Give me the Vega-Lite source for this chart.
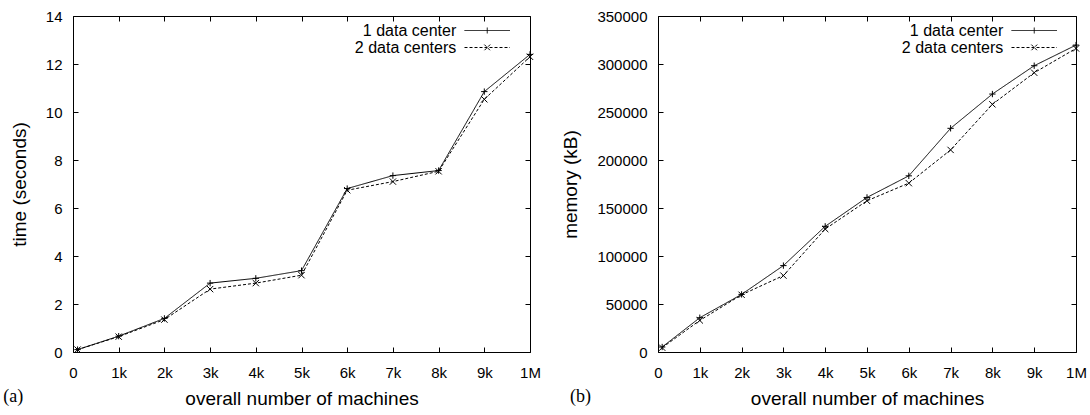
{
  "$schema": "https://vega.github.io/schema/vega-lite/v6.json",
  "background": "white",
  "padding": {"left": 2, "top": 8, "right": 5, "bottom": 2},
  "spacing": 20,
  "resolve": {"scale": {"strokeDash": "independent"}, "legend": {"strokeDash": "independent"}},
  "datasets": {
    "time": [
      {"series": "1 data center", "machines": 0.1, "value": 0.1},
      {"series": "1 data center", "machines": 1, "value": 0.66},
      {"series": "1 data center", "machines": 2, "value": 1.4},
      {"series": "1 data center", "machines": 3, "value": 2.87},
      {"series": "1 data center", "machines": 4, "value": 3.07},
      {"series": "1 data center", "machines": 5, "value": 3.39},
      {"series": "1 data center", "machines": 6, "value": 6.81},
      {"series": "1 data center", "machines": 7, "value": 7.35},
      {"series": "1 data center", "machines": 8, "value": 7.56},
      {"series": "1 data center", "machines": 9, "value": 10.85},
      {"series": "1 data center", "machines": 10, "value": 12.4},
      {"series": "2 data centers", "machines": 0.1, "value": 0.1},
      {"series": "2 data centers", "machines": 1, "value": 0.64},
      {"series": "2 data centers", "machines": 2, "value": 1.35},
      {"series": "2 data centers", "machines": 3, "value": 2.62},
      {"series": "2 data centers", "machines": 4, "value": 2.87},
      {"series": "2 data centers", "machines": 5, "value": 3.2},
      {"series": "2 data centers", "machines": 6, "value": 6.74},
      {"series": "2 data centers", "machines": 7, "value": 7.1},
      {"series": "2 data centers", "machines": 8, "value": 7.53},
      {"series": "2 data centers", "machines": 9, "value": 10.53},
      {"series": "2 data centers", "machines": 10, "value": 12.3}
    ],
    "memory": [
      {"series": "1 data center", "machines": 0.1, "value": 5200},
      {"series": "1 data center", "machines": 1, "value": 35700},
      {"series": "1 data center", "machines": 2, "value": 60000},
      {"series": "1 data center", "machines": 3, "value": 90000},
      {"series": "1 data center", "machines": 4, "value": 130900},
      {"series": "1 data center", "machines": 5, "value": 161000},
      {"series": "1 data center", "machines": 6, "value": 183500},
      {"series": "1 data center", "machines": 7, "value": 233000},
      {"series": "1 data center", "machines": 8, "value": 268700},
      {"series": "1 data center", "machines": 9, "value": 298200},
      {"series": "1 data center", "machines": 10, "value": 319700},
      {"series": "2 data centers", "machines": 0.1, "value": 4500},
      {"series": "2 data centers", "machines": 1, "value": 32900},
      {"series": "2 data centers", "machines": 2, "value": 59600},
      {"series": "2 data centers", "machines": 3, "value": 79600},
      {"series": "2 data centers", "machines": 4, "value": 128100},
      {"series": "2 data centers", "machines": 5, "value": 157500},
      {"series": "2 data centers", "machines": 6, "value": 175900},
      {"series": "2 data centers", "machines": 7, "value": 210500},
      {"series": "2 data centers", "machines": 8, "value": 258000},
      {"series": "2 data centers", "machines": 9, "value": 290900},
      {"series": "2 data centers", "machines": 10, "value": 316200}
    ]
  },
  "config": {
    "font": "Liberation Sans",
    "view": {"stroke": "black", "strokeWidth": 1},
    "axis": {
      "grid": false,
      "domain": false,
      "tickColor": "black",
      "tickSize": -5,
      "tickWidth": 1,
      "labelColor": "black",
      "labelFontSize": 15,
      "labelFlush": false,
      "labelOverlap": false,
      "titleFontSize": 19,
      "titleFontWeight": "normal",
      "titleColor": "black"
    },
    "axisX": {"labelPadding": 18, "titlePadding": 9},
    "axisY": {"labelPadding": 16, "titlePadding": 16},
    "title": {"font": "Liberation Serif", "fontSize": 18, "fontWeight": "normal", "color": "black", "orient": "bottom", "anchor": "start", "frame": "bounds", "offset": -20},
    "legend": {
      "orient": "none",
      "padding": 0,
      "symbolType": "M-3.5,0L3.5,0",
      "symbolSize": 169,
      "symbolOffset": 16.25,
      "symbolStrokeColor": "black",
      "symbolStrokeWidth": 1,
      "rowPadding": 1,
      "labelAlign": "right",
      "labelOffset": -39,
      "labelFontSize": 16,
      "labelColor": "black",
      "title": null
    }
  },
  "hconcat": [
    {
      "width": 457,
      "height": 336,
      "data": {"name": "time"},
      "title": {"text": "(a)", "dx": -7},
      "layer": [
        {
          "mark": {"type": "line", "color": "black", "strokeWidth": 1},
          "encoding": {
            "x": {"field": "machines", "type": "quantitative", "scale": {"domain": [0, 10], "nice": false},
                  "axis": {"orient": "bottom", "values": [0,1,2,3,4,5,6,7,8,9,10], "title": "overall number of machines",
                           "labelExpr": "datum.value == 0 ? '0' : (datum.value == 10 ? '1M' : datum.value + 'k')"}},
            "y": {"field": "value", "type": "quantitative", "scale": {"domain": [0, 14], "nice": false},
                  "axis": {"orient": "left", "values": [0,2,4,6,8,10,12,14], "title": "time (seconds)"}},
            "strokeDash": {"field": "series", "type": "nominal",
                           "scale": {"domain": ["1 data center", "2 data centers"], "range": [[1, 0], [3, 2]]},
                           "legend": {"legendX": 390, "legendY": 6.5,
                                      "encode": {"symbols": {"update": {"shape": {"signal": "datum.value === '1 data center' ? 'M-3.5,0L3.5,0M0,-0.45L0,0.45' : 'M-3.5,0L3.5,0M-0.45,-0.45L0.45,0.45M0.45,-0.45L-0.45,0.45'"}}}}}}
          }
        },
        {
          "transform": [{"filter": "datum.series === '1 data center'"}],
          "mark": {"type": "point", "shape": "M-1,0L1,0M0,-1L0,1", "filled": false, "stroke": "black", "strokeWidth": 1, "size": 40, "opacity": 1},
          "encoding": {
            "x": {"field": "machines", "type": "quantitative", "scale": {"domain": [0, 10], "nice": false},
                  "axis": {"orient": "top", "values": [0,1,2,3,4,5,6,7,8,9,10], "labels": false, "title": null}},
            "y": {"field": "value", "type": "quantitative", "scale": {"domain": [0, 14], "nice": false},
                  "axis": {"orient": "right", "values": [0,2,4,6,8,10,12,14], "labels": false, "title": null}}
          }
        },
        {
          "transform": [{"filter": "datum.series === '2 data centers'"}],
          "mark": {"type": "point", "shape": "M-1,-1L1,1M1,-1L-1,1", "filled": false, "stroke": "black", "strokeWidth": 1, "size": 40, "opacity": 1},
          "encoding": {
            "x": {"field": "machines", "type": "quantitative", "axis": null},
            "y": {"field": "value", "type": "quantitative", "axis": null}
          }
        }
      ],
      "resolve": {"axis": {"x": "independent", "y": "independent"}}
    },
    {
      "width": 418,
      "height": 336,
      "data": {"name": "memory"},
      "title": {"text": "(b)", "dx": 8},
      "layer": [
        {
          "mark": {"type": "line", "color": "black", "strokeWidth": 1},
          "encoding": {
            "x": {"field": "machines", "type": "quantitative", "scale": {"domain": [0, 10], "nice": false},
                  "axis": {"orient": "bottom", "values": [0,1,2,3,4,5,6,7,8,9,10], "title": "overall number of machines",
                           "labelExpr": "datum.value == 0 ? '0' : (datum.value == 10 ? '1M' : datum.value + 'k')"}},
            "y": {"field": "value", "type": "quantitative", "scale": {"domain": [0, 350000], "nice": false},
                  "axis": {"orient": "left", "values": [0,50000,100000,150000,200000,250000,300000,350000], "format": "d", "title": "memory (kB)"}},
            "strokeDash": {"field": "series", "type": "nominal",
                           "scale": {"domain": ["1 data center", "2 data centers"], "range": [[1, 0], [3, 2]]},
                           "legend": {"legendX": 352, "legendY": 6.5,
                                      "encode": {"symbols": {"update": {"shape": {"signal": "datum.value === '1 data center' ? 'M-3.5,0L3.5,0M0,-0.45L0,0.45' : 'M-3.5,0L3.5,0M-0.45,-0.45L0.45,0.45M0.45,-0.45L-0.45,0.45'"}}}}}}
          }
        },
        {
          "transform": [{"filter": "datum.series === '1 data center'"}],
          "mark": {"type": "point", "shape": "M-1,0L1,0M0,-1L0,1", "filled": false, "stroke": "black", "strokeWidth": 1, "size": 40, "opacity": 1},
          "encoding": {
            "x": {"field": "machines", "type": "quantitative", "scale": {"domain": [0, 10], "nice": false},
                  "axis": {"orient": "top", "values": [0,1,2,3,4,5,6,7,8,9,10], "labels": false, "title": null}},
            "y": {"field": "value", "type": "quantitative", "scale": {"domain": [0, 350000], "nice": false},
                  "axis": {"orient": "right", "values": [0,50000,100000,150000,200000,250000,300000,350000], "labels": false, "title": null}}
          }
        },
        {
          "transform": [{"filter": "datum.series === '2 data centers'"}],
          "mark": {"type": "point", "shape": "M-1,-1L1,1M1,-1L-1,1", "filled": false, "stroke": "black", "strokeWidth": 1, "size": 40, "opacity": 1},
          "encoding": {
            "x": {"field": "machines", "type": "quantitative", "axis": null},
            "y": {"field": "value", "type": "quantitative", "axis": null}
          }
        }
      ],
      "resolve": {"axis": {"x": "independent", "y": "independent"}}
    }
  ]
}
